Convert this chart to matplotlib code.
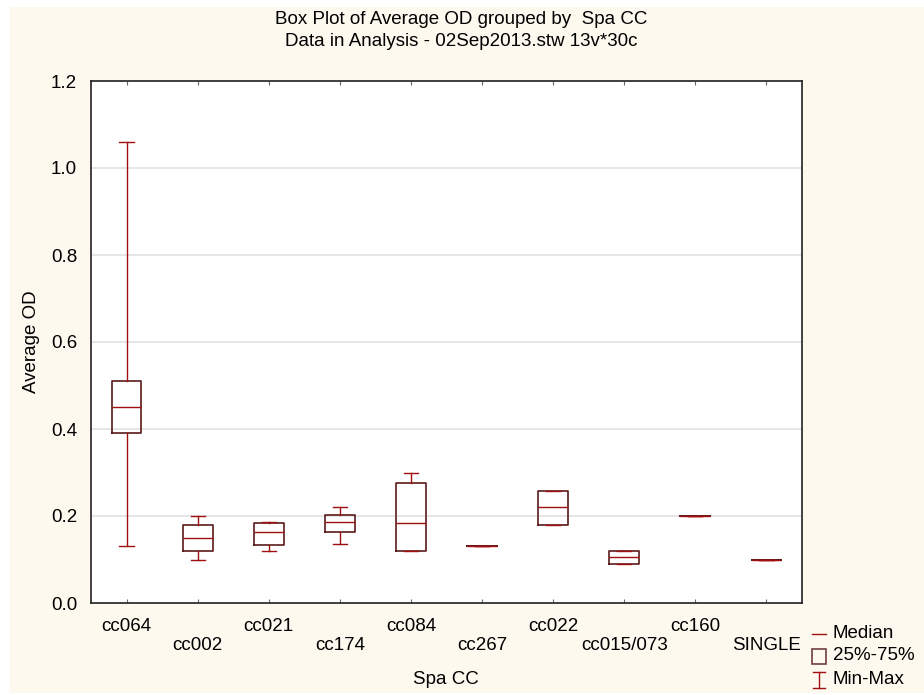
import matplotlib
matplotlib.use("Agg")
import matplotlib.pyplot as plt
from matplotlib.lines import Line2D
from matplotlib.patches import Rectangle

plt.rcParams['font.family'] = ['Liberation Sans', 'DejaVu Sans']

# summary statistics per Spa CC group
groups = ["cc064", "cc002", "cc021", "cc174", "cc084", "cc267",
          "cc022", "cc015/073", "cc160", "SINGLE"]
mins    = [0.13, 0.10, 0.12, 0.135, 0.12, 0.13, 0.18, 0.09, 0.20, 0.10]
q1s     = [0.39, 0.12, 0.133, 0.163, 0.12, 0.13, 0.18, 0.09, 0.20, 0.10]
medians = [0.45, 0.15, 0.163, 0.187, 0.183, 0.13, 0.22, 0.105, 0.20, 0.10]
q3s     = [0.51, 0.18, 0.183, 0.203, 0.275, 0.13, 0.258, 0.12, 0.20, 0.10]
maxs    = [1.06, 0.20, 0.187, 0.22, 0.30, 0.13, 0.258, 0.12, 0.20, 0.10]

yticks = [0.0, 0.2, 0.4, 0.6, 0.8, 1.0, 1.2]

box_col = '#5c1a1a'
line_col = '#a01010'
bg = '#fdf9ef'

W, H = 924, 695
fig = plt.figure(figsize=(W / 100, H / 100), dpi=100, facecolor='white')
fig.patches.append(Rectangle((10 / W, 2 / H), 1 - 10 / W, 1 - 9 / H,
                             transform=fig.transFigure, facecolor=bg,
                             edgecolor='none', zorder=-10))

ax = fig.add_axes([91 / W, 1 - 603 / H, (802 - 91) / W, (603 - 81) / H])
ax.set_facecolor('white')

stats = []
for g, lo, a, m, b, hi in zip(groups, mins, q1s, medians, q3s, maxs):
    stats.append(dict(label=g, whislo=lo, q1=a, med=m, q3=b, whishi=hi, fliers=[]))

pos = list(range(len(groups)))
ax.bxp(stats, positions=pos, widths=0.42, capwidths=0.2, showfliers=False,
       boxprops=dict(color=box_col, linewidth=1.2),
       whiskerprops=dict(color=line_col, linewidth=1.0),
       capprops=dict(color=line_col, linewidth=1.0),
       medianprops=dict(color=line_col, linewidth=1.0))

ax.set_xlim(-0.5, len(groups) - 0.5)
ax.set_ylim(0, 1.2)
ax.set_yticks(yticks)
ax.set_yticklabels([f"{v:.1f}" for v in yticks], fontsize=13.5)
ax.set_xticks(pos)
ax.set_xticklabels([g if i % 2 == 0 else "\n" + g for i, g in enumerate(groups)],
                   fontsize=13.5, linespacing=1.1)
ax.tick_params(axis='x', direction='in', top=True, length=3, color='#666666', pad=11)
ax.tick_params(axis='y', length=0, pad=10)
ax.yaxis.grid(True, color='#e2e2e2', linewidth=1.2)
ax.set_axisbelow(True)
for s in ax.spines.values():
    s.set_color('#222222')
    s.set_linewidth(1.2)

fig.text(461 / W, 1 - 20 / H, "Box Plot of Average OD grouped by  Spa CC",
         ha='center', va='center', fontsize=13.5)
fig.text(461 / W, 1 - 42 / H, "Data in Analysis - 02Sep2013.stw 13v*30c",
         ha='center', va='center', fontsize=13.5)
fig.text(32 / W, 1 - 342 / H, "Average OD", rotation=90,
         ha='center', va='center', fontsize=13.5)
fig.text(446 / W, 1 - 680 / H, "Spa CC", ha='center', va='center', fontsize=13.5)

# key for the box elements
def fx(x):
    return x / W

def fy(y):
    return 1 - y / H

fig.add_artist(Line2D([fx(812), fx(826)], [fy(634), fy(634)], color=line_col, lw=1.0))
fig.add_artist(Rectangle((fx(812), fy(664)), 14 / W, 15 / H, transform=fig.transFigure,
                         facecolor='none', edgecolor='#704040', lw=1.2))
fig.add_artist(Line2D([fx(819), fx(819)], [fy(672), fy(688)], color=line_col, lw=1.0))
fig.add_artist(Line2D([fx(813), fx(825)], [fy(672), fy(672)], color=line_col, lw=1.0))
fig.add_artist(Line2D([fx(813), fx(825)], [fy(688), fy(688)], color=line_col, lw=1.0))
for y, t in [(634, "Median"), (656, "25%-75%"), (679, "Min-Max")]:
    fig.text(fx(833), fy(y), t, ha='left', va='center', fontsize=13.5)

fig.savefig("out.png", dpi=100, facecolor=fig.get_facecolor())
